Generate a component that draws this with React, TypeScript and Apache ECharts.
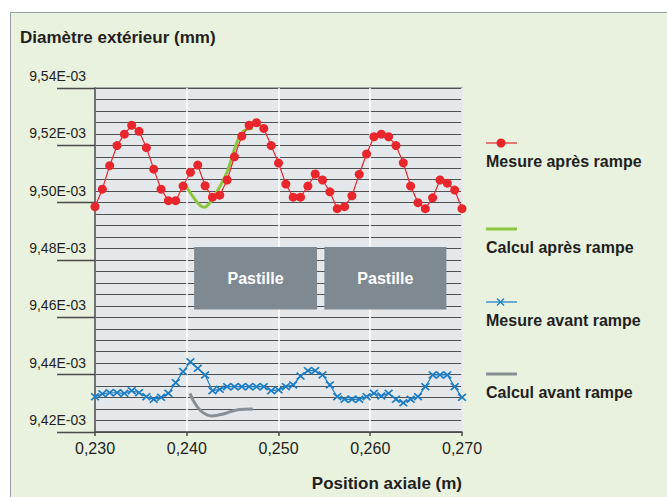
import { useEffect, useRef } from "react";
import * as echarts from "echarts";

// Axial positions (m) of the measured samples
const positions = [
  0.2300, 0.2308, 0.2316, 0.2324, 0.2332, 0.2340, 0.2348, 0.2356, 0.2364, 0.2372,
  0.2380, 0.2388, 0.2396, 0.2404, 0.2412, 0.2420, 0.2428, 0.2436, 0.2444, 0.2452,
  0.2460, 0.2468, 0.2476, 0.2484, 0.2492, 0.2500, 0.2508, 0.2516, 0.2524, 0.2532,
  0.2540, 0.2548, 0.2556, 0.2564, 0.2572, 0.2580, 0.2588, 0.2596, 0.2604, 0.2612,
  0.2620, 0.2628, 0.2636, 0.2644, 0.2652, 0.2660, 0.2668, 0.2676, 0.2684, 0.2692,
  0.2700,
];

// Outer diameter, in units of 1E-03 mm
const mesureApres = [
  9.4986, 9.5047, 9.5129, 9.5199, 9.5239, 9.5270, 9.5249, 9.5192, 9.5117, 9.5047,
  9.5007, 9.5007, 9.5058, 9.5106, 9.5131, 9.5059, 9.5019, 9.5026, 9.5079, 9.5160,
  9.5232, 9.5270, 9.5279, 9.5259, 9.5199, 9.5138, 9.5065, 9.5019, 9.5019, 9.5058,
  9.5100, 9.5079, 9.5038, 9.4979, 9.4986, 9.5024, 9.5099, 9.5170, 9.5230, 9.5239,
  9.5230, 9.5199, 9.5139, 9.5058, 9.5000, 9.4979, 9.5017, 9.5079, 9.5068, 9.5044,
  9.4979,
];

const mesureAvant = [
  9.4323, 9.4333, 9.4337, 9.4337, 9.4335, 9.4344, 9.4337, 9.4323, 9.4314, 9.4321,
  9.4335, 9.4372, 9.4411, 9.4445, 9.4422, 9.4399, 9.4344, 9.4349, 9.4358, 9.4358,
  9.4358, 9.4358, 9.4358, 9.4358, 9.4344, 9.4347, 9.4358, 9.4364, 9.4395, 9.4414,
  9.4414, 9.4399, 9.4364, 9.4323, 9.4314, 9.4314, 9.4314, 9.4323, 9.4335, 9.4326,
  9.4335, 9.4314, 9.4302, 9.4314, 9.4323, 9.4358, 9.4399, 9.4399, 9.4399, 9.4358,
  9.4321,
];

const calculApresX = [0.2399, 0.2407, 0.2414, 0.2419, 0.2425, 0.2434, 0.2444, 0.2455, 0.2462, 0.2472];
const calculApresY = [9.5058, 9.5020, 9.4992, 9.4984, 9.4999, 9.5044, 9.5108, 9.5213, 9.5250, 9.5259];

const calculAvantX = [0.24035, 0.2409, 0.24163, 0.24272, 0.24398, 0.24544, 0.24719];
const calculAvantY = [9.4335, 9.4300, 9.4271, 9.4256, 9.4263, 9.4277, 9.4280];

const pastilleLabels = ["Pastille", "Pastille"];
const pastilleStart = [0.2408, 0.2550];
const pastilleEnd = [0.2542, 0.2683];
const pastilleTop = 9.4845;
const pastilleBottom = 9.4627;

const seriesNames = ["Mesure après rampe", "Calcul après rampe", "Mesure avant rampe", "Calcul avant rampe"];
const titleText = "Diamètre extérieur (mm)";
const xAxisTitle = "Position axiale (m)";

const FONT = "'Liberation Sans', Arial, Helvetica, sans-serif";
const RED = "#e8262c";
const GREEN = "#8cc63f";
const BLUE = "#1b7dc4";
const GREY = "#878f96";
const TEXT = "#231f20";
const CROSS = "path://M0,1.4L1.4,0L5,3.6L8.6,0L10,1.4L6.4,5L10,8.6L8.6,10L5,6.4L1.4,10L0,8.6L3.6,5Z";

const zip = (xs: number[], ys: number[]) => xs.map((x, i) => [x, ys[i]]);

export default function App() {
  const ref = useRef<HTMLDivElement>(null);

  useEffect(() => {
    if (!ref.current) return;
    const chart = echarts.init(ref.current, null, { renderer: "svg" });

    const legendY = [143, 229, 302, 374];
    const legendColors = [RED, GREEN, BLUE, GREY];
    const legendGraphics: any[] = [];
    seriesNames.forEach((name, i) => {
      const y = legendY[i];
      const thick = i === 1 || i === 3;
      legendGraphics.push({
        type: "line",
        shape: { x1: 486, y1: y, x2: 517, y2: y },
        style: { stroke: legendColors[i], lineWidth: thick ? 3 : 1.2 },
      });
      if (i === 0) {
        legendGraphics.push({ type: "circle", shape: { cx: 501, cy: y, r: 4.5 }, style: { fill: RED } });
      }
      if (i === 2) {
        legendGraphics.push({ type: "line", shape: { x1: 497, y1: y - 3.5, x2: 504, y2: y + 3.5 }, style: { stroke: BLUE, lineWidth: 1.3 } });
        legendGraphics.push({ type: "line", shape: { x1: 497, y1: y + 3.5, x2: 504, y2: y - 3.5 }, style: { stroke: BLUE, lineWidth: 1.3 } });
      }
      legendGraphics.push({
        type: "text",
        x: 486,
        y: y + 18,
        style: { text: name, font: `bold 16px ${FONT}`, fill: TEXT, align: "left", verticalAlign: "middle" },
      });
    });

    const option: any = {
      animation: false,
      backgroundColor: "transparent",
      title: {
        text: titleText,
        left: 20,
        top: 29,
        padding: 0,
        textStyle: { fontFamily: FONT, fontWeight: "bold", fontSize: 17, color: TEXT },
      },
      grid: {
        left: 95,
        right: 205,
        top: 88,
        bottom: 65,
        show: true,
        backgroundColor: "#e5e8eb",
        borderColor: "#8c9297",
        borderWidth: 1.5,
      },
      xAxis: {
        type: "value",
        min: 0.23,
        max: 0.27,
        interval: 0.01,
        axisLine: { show: true, lineStyle: { color: "#4a4a4a", width: 1.5 } },
        axisTick: { show: true, length: 4, lineStyle: { color: "#4a4a4a", width: 1.5 } },
        axisLabel: {
          margin: 8,
          fontFamily: FONT,
          fontSize: 16,
          color: TEXT,
          formatter: (v: number) => v.toFixed(3).replace(".", ","),
        },
        splitLine: { show: true, lineStyle: { color: "#ffffff", width: 1.5 } },
      },
      yAxis: {
        type: "value",
        min: 9.42,
        max: 9.54,
        interval: 0.02,
        axisLine: { show: true, lineStyle: { color: "#4a4a4a", width: 1.5 } },
        axisTick: { show: true, length: 38, lineStyle: { color: "#4a4a4a", width: 1.3 } },
        minorTick: { show: false, splitNumber: 5 },
        minorSplitLine: { show: true, lineStyle: { color: "#505050", width: 1.2 } },
        splitLine: { show: true, lineStyle: { color: "#505050", width: 1.2 } },
        axisLabel: {
          margin: 9,
          fontFamily: FONT,
          fontSize: 14,
          color: TEXT,
          verticalAlign: "bottom",
          padding: [0, 0, 5, 0],
          showMinLabel: true,
          showMaxLabel: true,
          formatter: (v: number) => v.toFixed(2).replace(".", ",") + "E-03",
        },
      },
      series: [
        {
          name: seriesNames[1],
          type: "line",
          data: zip(calculApresX, calculApresY),
          smooth: 0.35,
          showSymbol: false,
          symbol: "none",
          lineStyle: { color: GREEN, width: 3 },
          z: 2,
          clip: false,
        },
        {
          name: seriesNames[3],
          type: "line",
          data: zip(calculAvantX, calculAvantY),
          smooth: 0.35,
          showSymbol: false,
          symbol: "none",
          lineStyle: { color: GREY, width: 3 },
          z: 2,
          clip: false,
        },
        {
          name: seriesNames[0],
          type: "line",
          data: zip(positions, mesureApres),
          symbol: "circle",
          symbolSize: 9,
          itemStyle: { color: RED },
          lineStyle: { color: RED, width: 1.2 },
          z: 3,
          clip: false,
          markArea: {
            silent: true,
            itemStyle: { color: "#7e8992", opacity: 1 },
            label: {
              show: true,
              position: "inside",
              color: "#ffffff",
              fontFamily: FONT,
              fontWeight: "bold",
              fontSize: 16,
            },
            data: pastilleLabels.map((name, i) => [
              { name, xAxis: pastilleStart[i], yAxis: pastilleTop },
              { xAxis: pastilleEnd[i], yAxis: pastilleBottom },
            ]),
          },
        },
        {
          name: seriesNames[2],
          type: "line",
          data: zip(positions, mesureAvant),
          symbol: CROSS,
          symbolSize: [9, 8],
          itemStyle: { color: BLUE },
          lineStyle: { color: BLUE, width: 1.2 },
          z: 3,
          clip: false,
        },
      ],
      graphic: [
        ...legendGraphics,
        {
          type: "text",
          x: 462,
          y: 483,
          style: { text: xAxisTitle, font: `bold 17px ${FONT}`, fill: TEXT, align: "right", verticalAlign: "middle" },
        },
      ],
    };

    chart.setOption(option);
    return () => chart.dispose();
  }, []);

  return (
    <div style={{ position: "fixed", left: 0, top: 0, width: 667, height: 497, overflow: "hidden", background: "#ffffff" }}>
      <div
        style={{
          position: "absolute",
          left: 10,
          top: 12,
          width: 700,
          height: 520,
          background: "#e9f2de",
          border: "1.5px solid #9aa2a5",
          boxSizing: "border-box",
        }}
      />
      <div ref={ref} style={{ position: "absolute", left: 0, top: 0, width: 667, height: 497 }} />
    </div>
  );
}
